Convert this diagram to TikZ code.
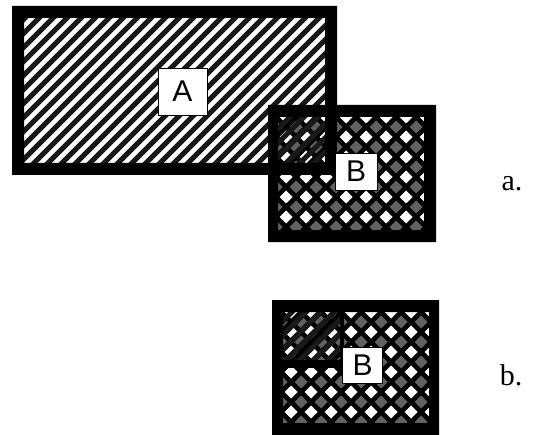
\documentclass[tikz,border=0pt]{standalone}
\usepackage{fontspec}
\setmainfont{Liberation Serif}
\newfontfamily\lblfont{Liberation Sans}
\newcommand\mychecker[4]{% x1 y1 x2 y2
  \begin{scope}
    \clip (#1,#2) rectangle (#3,#4);
    \fill[black] (#1,#2) rectangle (#3,#4);
    \foreach \i in {-1,...,9}{
      \foreach \j in {-1,...,7}{
        \fill[white,shift={(#1+8+20*\i,#2+20*\j)}] (-6.5,0)--(0,-6.5)--(6.5,0)--(0,6.5)--cycle;
        \fill[black!62,shift={(#1+18+20*\i,#2+10+20*\j)}] (-6.5,0)--(0,-6.5)--(6.5,0)--(0,6.5)--cycle;
      }}
  \end{scope}}
\newcommand\myhatch[4]{% x1 y1 x2 y2
  \begin{scope}
    \clip (#1,#2) rectangle (#3,#4);
    \foreach \c in {-200,-186,...,460}{
      \draw[black!90,line width=5pt] (\c,#4+10) -- (\c+#4-#2+40,#2-30);
    }
  \end{scope}}
\tikzset{
  frame/.style={fill=black,even odd rule},
  lbl/.style={draw=black,line width=0.8pt,fill=white,inner sep=0pt,font=\lblfont\fontsize{30}{30}\selectfont},
  tag/.style={font=\fontsize{30}{30}\selectfont,inner sep=0pt}
}
\begin{document}
\begin{tikzpicture}[x=1pt,y=-1pt]
\fill[white] (0,0) rectangle (534,435);
\useasboundingbox (0,0) rectangle (534,435);
% ---- figure a ----
\fill[white] (24,18) rectangle (325,163);
\mychecker{278}{117}{424}{230}
\myhatch{24}{18}{325}{163}
% frames
\fill[frame] (12,6) rectangle (337,175) (24,18) rectangle (325,163);
\fill[frame] (268,105) rectangle (436,242) (278,117) rectangle (424,230);
\node[lbl,minimum width=49pt,minimum height=47pt] (la) at (182.5,91.5) {A};
\node[lbl,minimum width=42pt,minimum height=37pt] (lb) at (356,171.5) {B};
\node[tag] (ta) at (512,184) {a.};
% ---- figure b ----
\mychecker{283}{312}{429}{423}
\myhatch{283}{312}{340}{360}
\fill[frame] (272,300) rectangle (439,435) (283,312) rectangle (429,423);
\fill[black] (340,312) rectangle (344,368);
\fill[black] (283,360) rectangle (344,368);
\node[lbl,minimum width=40pt,minimum height=36pt] (lb2) at (362.5,365.5) {B};
\node[tag] (tb) at (511,375) {b.};
\end{tikzpicture}
\end{document}
